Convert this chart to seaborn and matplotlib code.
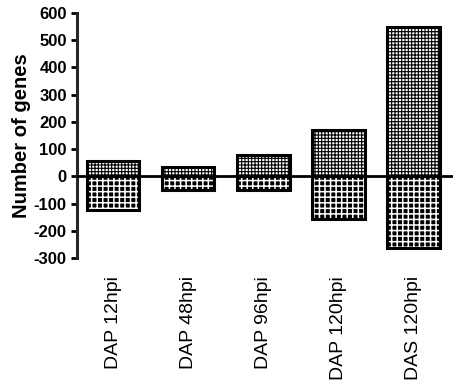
import matplotlib
matplotlib.use("Agg")
import matplotlib.pyplot as plt
import seaborn as sns
import pandas as pd

# data
categories = ["DAP 12hpi", "DAP 48hpi", "DAP 96hpi", "DAP 120hpi", "DAS 120hpi"]
up_genes = [55, 35, 78, 172, 550]
down_genes = [-125, -50, -50, -155, -262]
yticks = [-300, -200, -100, 0, 100, 200, 300, 400, 500, 600]

sns.set_style("ticks")
plt.rcParams["font.family"] = ["Liberation Sans", "DejaVu Sans"]
for k in ["text.color", "axes.labelcolor", "xtick.color", "ytick.color"]:
    plt.rcParams[k] = "black"

df = pd.DataFrame({"cat": categories * 2,
                   "val": up_genes + down_genes,
                   "dir": ["up"] * 5 + ["down"] * 5})

fig = plt.figure(figsize=(4.54, 3.84), dpi=100)
ax = fig.add_axes([0.170, 0.328, 0.828, 0.638])

up = df[df["dir"] == "up"]
down = df[df["dir"] == "down"]
sns.barplot(data=up, x="cat", y="val", ax=ax, color="white",
            edgecolor="black", linewidth=2.2, width=0.7, order=categories)
n_up = len(ax.patches)
sns.barplot(data=down, x="cat", y="val", ax=ax, color="white",
            edgecolor="black", linewidth=2.2, width=0.7, order=categories)

for i, p in enumerate(ax.patches):
    if i < n_up:
        # fine grey checker
        p.set_hatch("+++++")
        p.set_hatch_linewidth(0.8)
    else:
        # coarse black/white checker: black fill, white grid
        p.set_facecolor("black")
        p.set_hatch("+++")
        p.set_hatch_linewidth(1.1)
        try:
            p.set_hatchcolor("white")
        except AttributeError:
            p._hatch_color = (1, 1, 1, 1)

ax.axhline(0, color="black", lw=2.0, zorder=5)

ax.set_ylim(-300, 600)
ax.set_xlim(-0.48, 4.53)
ax.set_yticks(yticks)
ax.set_yticklabels([str(t) for t in yticks], fontsize=12, fontweight="bold")
ax.set_xticks(range(len(categories)))
ax.set_xticklabels(categories, rotation=90, fontsize=14)
ax.tick_params(axis="x", length=0, pad=13)
ax.tick_params(axis="y", length=4, width=2)
ax.set_xlabel("")
ax.set_ylabel("Number of genes", fontsize=14.5, fontweight="bold", labelpad=2)

sns.despine(ax=ax, bottom=True)
ax.spines["left"].set_linewidth(2.2)

fig.savefig("out.png", dpi=100)
